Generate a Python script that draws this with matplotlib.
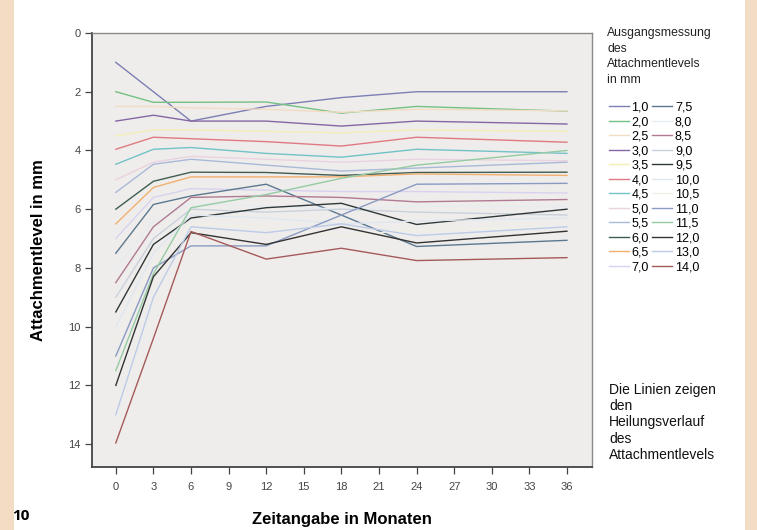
import numpy as np
import matplotlib
matplotlib.use("Agg")
import matplotlib.pyplot as plt
from matplotlib.patches import Rectangle

plt.rcParams['font.family'] = ['Liberation Sans', 'DejaVu Sans']

# months of follow-up
months = [0, 3, 6, 12, 18, 24, 36]

# starting attachment level (legend labels) and course per line, in mm
start_labels = ['1,0', '2,0', '2,5', '3,0', '3,5', '4,0', '4,5', '5,0', '5,5', '6,0', '6,5', '7,0',
                '7,5', '8,0', '8,5', '9,0', '9,5', '10,0', '10,5', '11,0', '11,5', '12,0', '13,0', '14,0']

lvl_1_0 = [1.0, 2.0, 3.0, 2.5, 2.2, 2.0, 2.0]
lvl_2_0 = [2.0, 2.36, 2.36, 2.35, 2.73, 2.5, 2.66]
lvl_2_5 = [2.5, 2.5, 2.55, 2.6, 2.7, 2.6, 2.65]
lvl_3_0 = [3.0, 2.8, 3.0, 3.0, 3.17, 3.0, 3.1]
lvl_3_5 = [3.5, 3.3, 3.3, 3.35, 3.4, 3.3, 3.35]
lvl_4_0 = [3.96, 3.55, 3.6, 3.7, 3.85, 3.55, 3.72]
lvl_4_5 = [4.47, 3.96, 3.9, 4.1, 4.23, 3.96, 4.1]
lvl_5_0 = [5.0, 4.4, 4.2, 4.3, 4.4, 4.3, 4.35]
lvl_5_5 = [5.43, 4.47, 4.3, 4.5, 4.7, 4.6, 4.4]
lvl_6_0 = [6.0, 5.05, 4.74, 4.75, 4.85, 4.75, 4.74]
lvl_6_5 = [6.5, 5.26, 4.9, 4.9, 4.9, 4.8, 4.85]
lvl_7_0 = [7.0, 5.6, 5.3, 5.35, 5.4, 5.4, 5.45]
lvl_7_5 = [7.5, 5.84, 5.55, 5.15, 6.2, 7.27, 7.06]
lvl_8_0 = [8.0, 6.4, 5.8, 5.9, 6.0, 5.9, 5.9]
lvl_8_5 = [8.5, 6.6, 5.6, 5.55, 5.6, 5.75, 5.67]
lvl_9_0 = [9.0, 7.0, 6.0, 6.1, 6.0, 6.1, 6.2]
lvl_9_5 = [9.5, 7.2, 6.3, 5.95, 5.8, 6.52, 6.0]
lvl_10_0 = [10.0, 7.5, 6.2, 6.3, 6.5, 6.4, 6.3]
lvl_10_5 = [10.5, 7.8, 6.5, 6.6, 6.9, 6.7, 6.6]
lvl_11_0 = [11.0, 8.0, 7.25, 7.25, 6.2, 5.15, 5.12]
lvl_11_5 = [11.5, 8.2, 5.95, 5.5, 4.95, 4.5, 4.0]
lvl_12_0 = [12.0, 8.3, 6.8, 7.2, 6.6, 7.15, 6.75]
lvl_13_0 = [13.0, 9.0, 6.6, 6.8, 6.5, 6.9, 6.6]
lvl_14_0 = [13.96, 10.4, 6.76, 7.7, 7.33, 7.75, 7.65]

levels = [lvl_1_0, lvl_2_0, lvl_2_5, lvl_3_0, lvl_3_5, lvl_4_0, lvl_4_5, lvl_5_0, lvl_5_5,
          lvl_6_0, lvl_6_5, lvl_7_0, lvl_7_5, lvl_8_0, lvl_8_5, lvl_9_0, lvl_9_5, lvl_10_0,
          lvl_10_5, lvl_11_0, lvl_11_5, lvl_12_0, lvl_13_0, lvl_14_0]

colors = ['#7c7fb4', '#74c083', '#f1dcc4', '#8566a4', '#f4efb6', '#e07a82', '#72c2c8', '#ead2e0',
          '#a9b9d8', '#3f5c52', '#f1b070', '#d9d1f0', '#5b7890', '#e6ecf0', '#b07a92', '#c9d1dc',
          '#2f3838', '#dfe7f0', '#f1f0e6', '#8a9ac2', '#95cba3', '#333333', '#bccbe8', '#a45a5a']

fig = plt.figure(figsize=(7.57, 5.3), dpi=100)
fig.patch.set_facecolor('white')
# peach side strips of the page
fig.patches.append(Rectangle((0, 0), 14 / 757, 1, transform=fig.transFigure,
                             facecolor='#f2dcc4', edgecolor='none'))
fig.patches.append(Rectangle((745 / 757, 0), 12 / 757, 1, transform=fig.transFigure,
                             facecolor='#f2dcc4', edgecolor='none'))

ax = fig.add_axes([92 / 757, 1 - 467 / 530, 500 / 757, 434 / 530])
ax.set_facecolor('#efedeb')

handles = []
for lab, vals, c in zip(start_labels, levels, colors):
    h, = ax.plot(months, vals, color=c, lw=1.0, label=lab)
    handles.append(h)

ax.set_xlim(-1.9, 38)
ax.set_ylim(14.78, 0)
ax.set_xticks(range(0, 37, 3))
ax.set_yticks(range(0, 15, 2))
for s in ax.spines.values():
    s.set_color('#8a8a8a')
    s.set_linewidth(1.0)
ax.spines['left'].set_color('#444444')
ax.spines['bottom'].set_color('#444444')
ax.spines['left'].set_linewidth(1.3)
ax.spines['bottom'].set_linewidth(1.3)
ax.tick_params(direction='out', length=5, width=0.9, color='#444444',
               labelsize=8, labelcolor='#444444', pad=3)
ax.tick_params(axis='x', pad=6)

ax.set_xlabel('Zeitangabe in Monaten', fontsize=12, fontweight='bold', labelpad=14)
ax.set_ylabel('Attachmentlevel in mm', fontsize=12, fontweight='bold', labelpad=16)

fig.text(607 / 757, 1 - 27 / 530, 'Ausgangsmessung\ndes\nAttachmentlevels\nin mm',
         fontsize=8.8, va='top', ha='left', linespacing=1.4, color='#222222')

fig.legend(handles=handles, ncol=2, loc='upper left',
           bbox_to_anchor=(600 / 757, 1 - 93 / 530), frameon=False,
           fontsize=9, handlelength=1.6, handletextpad=0.2, columnspacing=0.3,
           labelspacing=0.2, borderpad=0.2)

fig.text(609 / 757, 1 - 383 / 530, 'Die Linien zeigen\nden\nHeilungsverlauf\ndes\nAttachmentlevels',
         fontsize=10, va='top', ha='left', linespacing=1.2, color='#111111')

fig.text(12 / 757, 1 - 523 / 530, '10', fontsize=11, fontweight='bold',
         family=['Open Sans', 'DejaVu Sans'], va='bottom', ha='left')

fig.savefig('out.png', dpi=100)
